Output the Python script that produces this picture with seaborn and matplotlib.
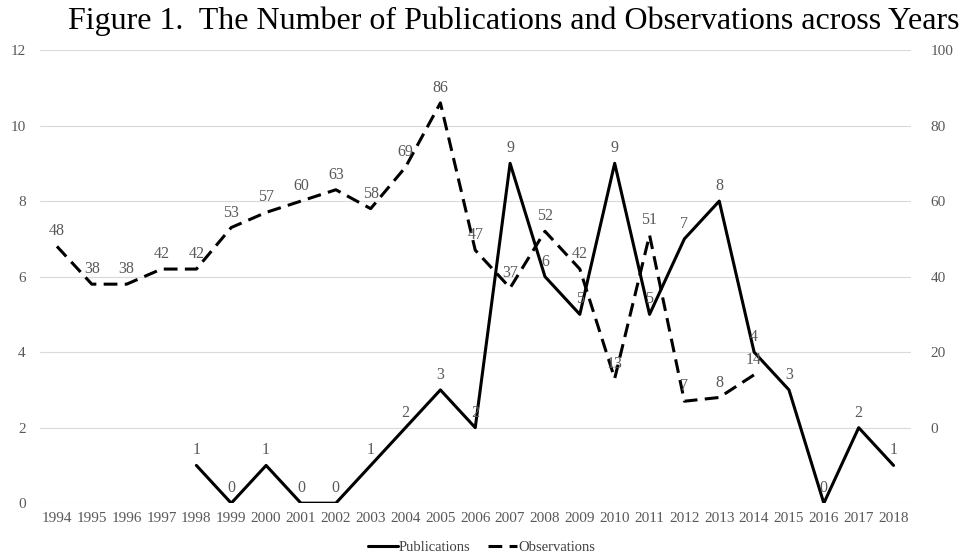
import numpy as np
import pandas as pd
import matplotlib
matplotlib.use("Agg")
import matplotlib.pyplot as plt
import seaborn as sns

sns.set_theme(style="white")
plt.rcParams["font.family"] = ["Liberation Serif", "DejaVu Serif"]

# %% Data
years = list(range(1994, 2019))
publications = [np.nan, np.nan, np.nan, np.nan, 1, 0, 1, 0, 0, 1, 2, 3, 2,
                9, 6, 5, 9, 5, 7, 8, 4, 3, 0, 2, 1]
observations = [48, 38, 38, 42, 42, 53, 57, 60, 63, 58, 69, 86, 47, 37, 52,
                42, 13, 51, 7, 8, 14, np.nan, np.nan, np.nan, np.nan]

df = pd.DataFrame({"pos": range(len(years)), "year": years,
                   "Publications": publications, "Observations": observations})

GRAY = "#595959"

# %% Plot
fig = plt.figure(figsize=(9.64, 5.56), dpi=100)
ax = fig.add_axes([0.041, 0.095, 0.904, 0.815])
ax2 = ax.twinx()

sns.lineplot(data=df, x="pos", y="Publications", ax=ax, color="black",
             linewidth=2.2, label="Publications", legend=False)
sns.lineplot(data=df, x="pos", y="Observations", ax=ax2, color="black",
             linewidth=2.2, label="Observations", legend=False)
ax2.lines[0].set_dashes([4.5, 2.4])

ax.set_xlim(-0.5, len(years) - 0.5)
ax.set_ylim(0, 12)
ax.set_yticks(range(0, 13, 2))
ax2.set_ylim(-20, 100)
ax2.set_yticks(range(0, 101, 20))

ax.set_xticks(df["pos"])
ax.set_xticklabels(df["year"], fontsize=11, color=GRAY)
ax.tick_params(axis="y", labelsize=11, labelcolor=GRAY, length=0, pad=10)
ax.tick_params(axis="x", length=0, pad=6)
ax2.tick_params(axis="y", labelsize=11, labelcolor=GRAY, length=0, pad=14)
ax.set_xlabel("")
ax.set_ylabel("")
ax2.set_ylabel("")

ax.grid(axis="y", color="#d9d9d9", linewidth=0.8)
ax.set_axisbelow(True)
for a in (ax, ax2):
    for s in a.spines.values():
        s.set_visible(False)

# data labels
for p, v in zip(df["pos"], df["Publications"]):
    if not np.isnan(v):
        ax.annotate(f"{int(v)}", (p, v), xytext=(0, 5), textcoords="offset points",
                    ha="center", va="bottom", fontsize=11.5, color=GRAY)
for p, v in zip(df["pos"], df["Observations"]):
    if not np.isnan(v):
        ax2.annotate(f"{int(v)}", (p, v), xytext=(0, 5), textcoords="offset points",
                     ha="center", va="bottom", fontsize=11.5, color=GRAY)

fig.suptitle("Figure 1.  The Number of Publications and Observations across Years",
             fontsize=23, color="black", x=0.533, y=0.988)

h1, l1 = ax.get_legend_handles_labels()
h2, l2 = ax2.get_legend_handles_labels()
fig.legend(h1 + h2, l1 + l2, loc="lower center", bbox_to_anchor=(0.5, -0.02),
           ncol=2, frameon=False, fontsize=10.5, handlelength=2.0,
           columnspacing=1.2, handletextpad=0.1, labelcolor="#404040")

fig.savefig("out.png", dpi=100)
